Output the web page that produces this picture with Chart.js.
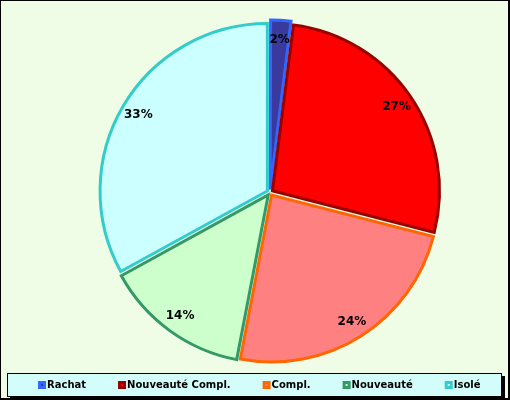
<!DOCTYPE html>
<html lang="fr">
<head>
<meta charset="UTF-8">
<title>Répartition</title>
<script src="https://cdn.jsdelivr.net/npm/chart.js"></script>
<style>
  html, body { margin: 0; padding: 0; background: #fff; }
</style>
</head>
<body>
<canvas id="chart" width="510" height="400"></canvas>
<script>
// données du camembert
const labels = ["Rachat", "Nouveauté Compl.", "Compl.", "Nouveauté", "Isolé"];
const values = [2, 27, 24, 14, 33];
const fillColors = ["#3a3a9e", "#ff0000", "#ff8080", "#ccffcc", "#ccffff"];
const borderColors = ["#3366ff", "#990000", "#ff6600", "#339966", "#33cccc"];

const FONT = '"DejaVu Sans", Verdana, sans-serif';

// fond + cadre
const backgroundPlugin = {
    id: "background",
    beforeDraw(chart) {
        const ctx = chart.ctx;
        ctx.save();
        ctx.fillStyle = "#f0fde6";
        ctx.fillRect(0, 0, chart.width, chart.height);
        ctx.restore();
    },
    afterDraw(chart) {
        const ctx = chart.ctx;
        const w = chart.width, h = chart.height;
        ctx.save();
        ctx.fillStyle = "#000";
        ctx.fillRect(0, 0, w, 1);
        ctx.fillRect(0, 0, 1, h);
        ctx.fillRect(w - 2, 0, 2, h);
        ctx.fillRect(0, h - 2, w, 2);
        ctx.restore();
    }
};

// pourcentages sur les parts
const percentPlugin = {
    id: "percentLabels",
    afterDatasetsDraw(chart) {
        const ctx = chart.ctx;
        const meta = chart.getDatasetMeta(0);
        const total = values.reduce((a, b) => a + b, 0);
        ctx.save();
        ctx.font = "bold 12px " + FONT;
        ctx.fillStyle = "#000";
        ctx.textAlign = "center";
        ctx.textBaseline = "middle";
        meta.data.forEach((arc, i) => {
            const p = arc.getProps(["x", "y", "startAngle", "endAngle"], true);
            const mid = (p.startAngle + p.endAngle) / 2;
            const r = 153;
            const txt = Math.round(values[i] / total * 100) + "%";
            ctx.fillText(txt, p.x + Math.cos(mid) * r, p.y + Math.sin(mid) * r);
        });
        ctx.restore();
    }
};

// légende en bas, dans un cadre ombré
const legendPlugin = {
    id: "boxLegend",
    afterDraw(chart) {
        const ctx = chart.ctx;
        ctx.save();
        // ombre
        ctx.fillStyle = "#000";
        ctx.fillRect(10, 376, 495, 24);
        // cadre
        ctx.fillStyle = "#d2fdfb";
        ctx.fillRect(7, 373, 495, 24);
        ctx.strokeStyle = "#000";
        ctx.lineWidth = 1;
        ctx.strokeRect(7.5, 373.5, 494, 23);

        ctx.font = "bold 10px " + FONT;
        ctx.textBaseline = "middle";
        ctx.textAlign = "left";
        const gap = 32, box = 8, pad = 1;
        const widths = labels.map(l => box + pad + ctx.measureText(l).width);
        const total = widths.reduce((a, b) => a + b, 0) + gap * (labels.length - 1);
        let x = Math.round(259 - total / 2);
        const yc = 385;
        labels.forEach((l, i) => {
            ctx.fillStyle = borderColors[i];
            ctx.fillRect(x, yc - 4, box, box);
            ctx.fillStyle = fillColors[i];
            ctx.fillRect(x + 3, yc - 1, 2, 2);
            ctx.fillStyle = "#000";
            ctx.fillText(l, x + box + pad, yc);
            x += widths[i] + gap;
        });
        ctx.restore();
    }
};

new Chart(document.getElementById("chart"), {
    type: "pie",
    data: {
        labels: labels,
        datasets: [{
            data: values,
            backgroundColor: fillColors,
            borderColor: borderColors,
            borderWidth: 3,
            borderJoinStyle: "miter",
            offset: 12,
            radius: 167
        }]
    },
    options: {
        responsive: false,
        animation: false,
        layout: { padding: { left: 30, right: 0, top: 0, bottom: 15 } },
        plugins: {
            legend: { display: false },
            tooltip: { enabled: false }
        }
    },
    plugins: [backgroundPlugin, percentPlugin, legendPlugin]
});
</script>
</body>
</html>
